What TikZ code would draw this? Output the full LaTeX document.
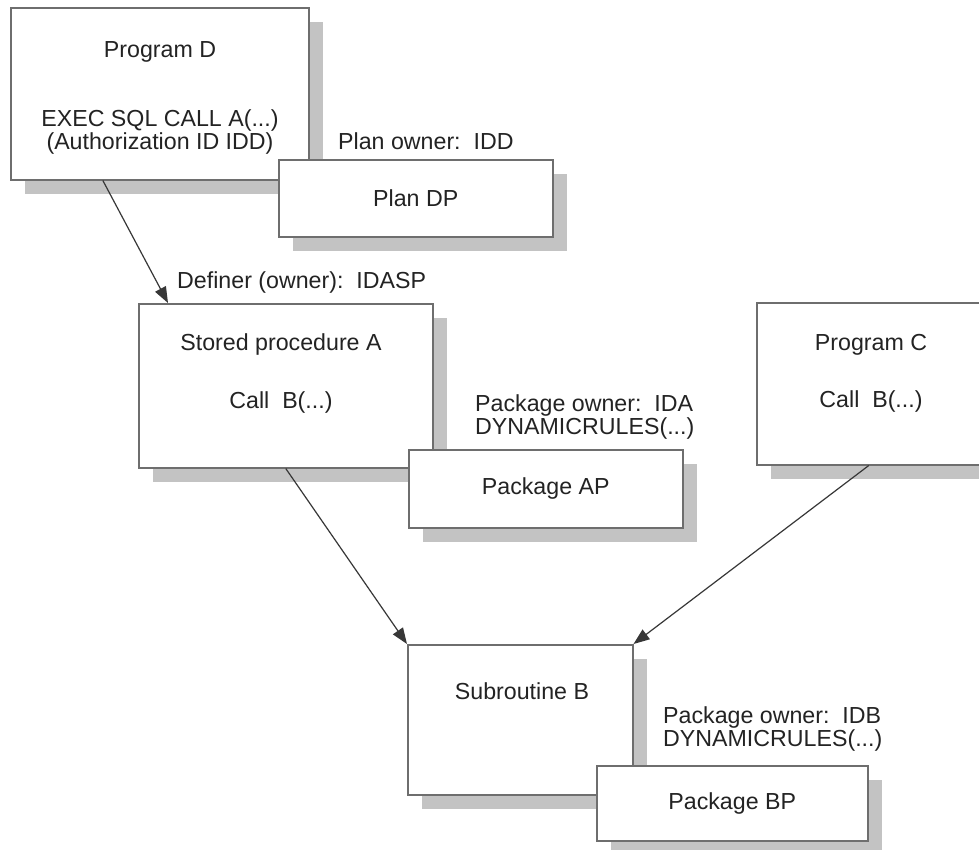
\documentclass[tikz,border=0pt]{standalone}
\usepackage{fontspec}
\setmainfont{Liberation Sans}
\usetikzlibrary{arrows.meta,positioning,calc,shadows}
\definecolor{DBline}{RGB}{110,110,110}
\definecolor{DBshade}{RGB}{195,195,195}
\definecolor{DBarrow}{RGB}{55,55,55}
\definecolor{DBtext}{RGB}{35,35,35}

\begin{document}
\begin{tikzpicture}[x=1pt, y=-1pt, every node/.style={font=\fontsize{23.2}{23}\selectfont, text=DBtext}, box/.style={draw=DBline, line width=1.5pt, fill=white, anchor=north west, inner sep=0pt, drop shadow={shadow xshift=14pt, shadow yshift=-14pt, fill=DBshade, opacity=1}}, txt/.style={align=center, inner sep=0pt}, note/.style={anchor=west, align=left, inner sep=0pt}, arr/.style={-{Triangle[length=16pt,width=12pt]}, line width=1.2pt, DBarrow}]
\useasboundingbox (0,0) rectangle (979,849);
\fill[white] (0,0) rectangle (979,849);
\clip (0,0) rectangle (979,849);
% program D and its plan
\node[box, minimum width=298pt, minimum height=172pt] (progD) at (10,7) {};
\node[txt] (progDtxt) at (160,98) {Program D\\[46pt]EXEC SQL CALL A(...)\\(Authorization ID IDD)};
\node[note] (planown) at (338,141) {Plan owner:\ \ IDD};
\node[box, minimum width=274pt, minimum height=77pt] (planDP) at (278,159) {Plan DP};
% stored procedure A and its package
\node[note] (definer) at (177,282) {Definer (owner):\ \ IDASP};
\node[box, minimum width=294pt, minimum height=164pt] (spA) at (138,303) {};
\node[txt] (spAtxt) at (281,373) {Stored procedure A\\[35pt]Call\ \ B(...)};
\node[note] (pkgAown) at (475,417) {Package owner:\ \ IDA\\DYNAMICRULES(...)};
\node[box, minimum width=274pt, minimum height=78pt] (pkgAP) at (408,449) {Package AP};
% program C
\node[box, minimum width=224pt, minimum height=162pt] (progC) at (756,302) {};
\node[txt] (progCtxt) at (871,373) {Program C\\[34pt]Call\ \ B(...)};
% subroutine B and its package
\node[box, minimum width=225pt, minimum height=150pt] (subB) at (407,644) {};
\node[txt] (subBtxt) at (522,691) {Subroutine B};
\node[note] (pkgBown) at (663,729) {Package owner:\ \ IDB\\DYNAMICRULES(...)};
\node[box, minimum width=271pt, minimum height=75pt] (pkgBP) at (596,765) {Package BP};
% calls
\draw[arr] ($(progD.south west)!0.31!(progD.south east)$) -- ($(spA.north west)+(30,0)$);
\draw[arr] (spA.south) -- (subB.north west);
\draw[arr] (progC.south) -- (subB.north east);
\end{tikzpicture}
\end{document}
